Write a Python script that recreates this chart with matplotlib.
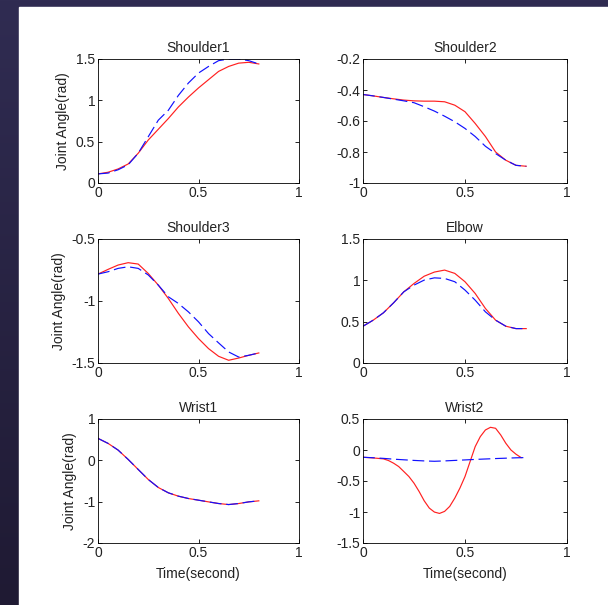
import numpy as np
import matplotlib
matplotlib.use("Agg")
import matplotlib.pyplot as plt
from matplotlib.ticker import FuncFormatter
from matplotlib.patches import Rectangle

plt.rcParams['font.family'] = ['Liberation Sans', 'DejaVu Sans']

t = [0, 0.05, 0.1, 0.15, 0.2, 0.25, 0.3, 0.35, 0.4, 0.45, 0.5, 0.55, 0.6, 0.65, 0.7, 0.75, 0.8]
t_fine = [0, 0.05, 0.1, 0.125, 0.15, 0.175, 0.2, 0.225, 0.25, 0.275, 0.3, 0.325, 0.35, 0.375, 0.4,
          0.425, 0.45, 0.475, 0.5, 0.525, 0.55, 0.575, 0.6, 0.625, 0.65, 0.675, 0.7, 0.725, 0.75, 0.775]

titles = ["Shoulder1", "Shoulder2", "Shoulder3", "Elbow", "Wrist1", "Wrist2"]

# solid red (actual) and dashed blue (desired)
shoulder1_red = [0.11, 0.13, 0.17, 0.23, 0.36, 0.52, 0.65, 0.78, 0.92, 1.04, 1.15, 1.25, 1.35, 1.41, 1.45, 1.46, 1.44]
shoulder1_blue = [0.11, 0.12, 0.16, 0.22, 0.36, 0.56, 0.76, 0.88, 1.06, 1.21, 1.33, 1.41, 1.48, 1.50, 1.50, 1.48, 1.44]
shoulder2_red = [-0.429, -0.438, -0.448, -0.457, -0.465, -0.470, -0.472, -0.472, -0.476, -0.498, -0.54, -0.616, -0.70, -0.80, -0.853, -0.886, -0.892]
shoulder2_blue = [-0.429, -0.438, -0.448, -0.459, -0.470, -0.482, -0.508, -0.536, -0.569, -0.605, -0.648, -0.70, -0.763, -0.81, -0.853, -0.886, -0.892]
shoulder3_red = [-0.783, -0.745, -0.71, -0.691, -0.702, -0.778, -0.872, -0.98, -1.10, -1.209, -1.303, -1.384, -1.446, -1.478, -1.46, -1.438, -1.419]
shoulder3_blue = [-0.783, -0.764, -0.737, -0.724, -0.737, -0.79, -0.872, -0.966, -1.02, -1.088, -1.168, -1.263, -1.338, -1.411, -1.452, -1.438, -1.419]
elbow_red = [0.445, 0.518, 0.607, 0.728, 0.861, 0.962, 1.05, 1.10, 1.124, 1.084, 0.983, 0.841, 0.66, 0.518, 0.445, 0.416, 0.416]
elbow_blue = [0.445, 0.518, 0.607, 0.728, 0.861, 0.942, 1.003, 1.03, 1.023, 0.983, 0.882, 0.76, 0.619, 0.518, 0.445, 0.416, 0.416]
wrist1_red = [0.531, 0.41, 0.248, 0.022, -0.221, -0.463, -0.657, -0.786, -0.867, -0.924, -0.964, -1.005, -1.045, -1.07, -1.045, -1.005, -0.98]
wrist1_blue = [0.531, 0.41, 0.248, 0.022, -0.221, -0.463, -0.657, -0.786, -0.867, -0.924, -0.964, -1.005, -1.045, -1.07, -1.045, -1.005, -0.98]
wrist2_red = [-0.117, -0.128, -0.143, -0.17, -0.213, -0.267, -0.347, -0.428, -0.535, -0.669, -0.819, -0.937, -1.001, -1.023, -0.99,
              -0.91, -0.776, -0.615, -0.428, -0.186, 0.055, 0.216, 0.323, 0.366, 0.35, 0.243, 0.109, 0.001, -0.068, -0.122]
wrist2_blue = [-0.117, -0.125, -0.135, -0.148, -0.158, -0.168, -0.176, -0.182, -0.176, -0.168, -0.16, -0.152, -0.145, -0.138, -0.132, -0.126, -0.122]

red_t = [t, t, t, t, t, t_fine]
red_data = [shoulder1_red, shoulder2_red, shoulder3_red, elbow_red, wrist1_red, wrist2_red]
blue_data = [shoulder1_blue, shoulder2_blue, shoulder3_blue, elbow_blue, wrist1_blue, wrist2_blue]
ylims = [(0, 1.5), (-1, -0.2), (-1.5, -0.5), (0, 1.5), (-2, 1), (-1.5, 0.5)]
yticks = [[0, 0.5, 1, 1.5], [-1, -0.8, -0.6, -0.4, -0.2], [-1.5, -1, -0.5],
          [0, 0.5, 1, 1.5], [-2, -1, 0, 1], [-1.5, -1, -0.5, 0, 0.5]]

fig = plt.figure(figsize=(6.08, 6.05), dpi=100)

# dark backdrop with a white panel
bg = fig.add_axes([0, 0, 1, 1], zorder=-10)
grad = np.linspace(0, 1, 256).reshape(-1, 1)
c_top = np.array([0x30, 0x2c, 0x52]) / 255
c_bot = np.array([0x1f, 0x1a, 0x33]) / 255
img = c_top + (c_bot - c_top) * grad[:, :, None]
bg.imshow(img, aspect='auto', extent=[0, 1, 0, 1])
bg.add_patch(Rectangle((19 / 608, 0), 1, 1 - 7 / 605, color='white'))
bg.set_xlim(0, 1)
bg.set_ylim(0, 1)
bg.axis('off')

lefts = [98 / 608, 363 / 608]
widths = [201 / 608, 204 / 608]
bottoms = [1 - 183 / 605, 1 - 363 / 605, 1 - 543 / 605]
h = 124 / 605

fmt = FuncFormatter(lambda v, p: '%g' % v)
txt = '#222222'

for i in range(6):
    r, c = divmod(i, 2)
    ax = fig.add_axes([lefts[c], bottoms[r], widths[c], h])
    ax.plot(red_t[i], red_data[i], color='#ff2020', lw=0.85)
    ax.plot(t, blue_data[i], color='#1010ff', lw=0.85, dashes=(10, 4))
    ax.set_xlim(0, 1)
    ax.set_ylim(*ylims[i])
    ax.set_xticks([0, 0.5, 1])
    ax.set_yticks(yticks[i])
    ax.xaxis.set_major_formatter(fmt)
    ax.yaxis.set_major_formatter(fmt)
    ax.tick_params(direction='in', top=True, right=True, labelsize=10, length=3,
                   width=0.6, pad=2, labelcolor=txt)
    ax.set_title(titles[i], fontsize=10, pad=5, color=txt)
    for s in ax.spines.values():
        s.set_linewidth(0.6)
    if c == 0:
        ax.set_ylabel("Joint Angle(rad)", fontsize=10, labelpad=4, color=txt)
    if r == 2:
        ax.set_xlabel("Time(second)", fontsize=10, labelpad=5, color=txt)

fig.savefig("out.png", dpi=100)
